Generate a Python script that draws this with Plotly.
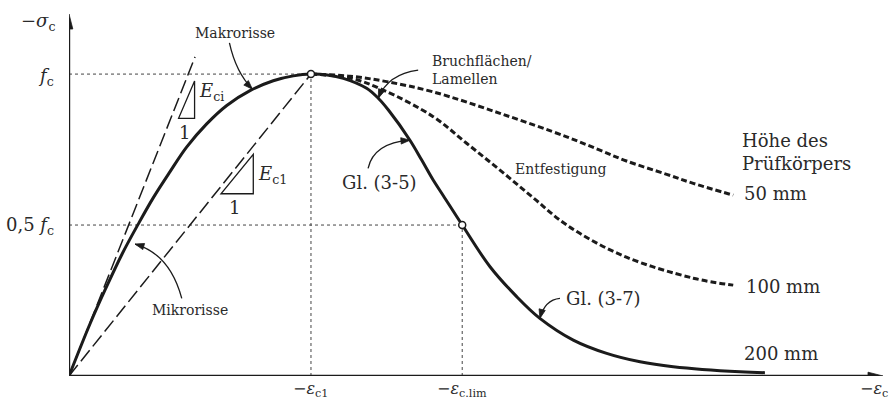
import plotly.graph_objects as go

# Stress-strain relation of concrete under uniaxial compression.
# Abscissa: strain related to eps_c1, ordinate: stress related to f_c.
EPS_C1 = 1.0
EPS_LIM = 1.625
F_C = 1.0
HALF_FC = 0.5
X_MAX = 3.364
Y_MAX = 1.199

# Gl. (3-5): ascending branch and softening down to 0.5 f_c
eq35_eps = [0.0, 0.087, 0.149, 0.22, 0.286, 0.348, 0.417, 0.486, 0.569, 0.652,
            0.748, 0.844, 0.927, 1.0, 1.067, 1.134, 1.23, 1.278, 1.32, 1.409,
            1.457, 1.505, 1.547, 1.625]
eq35_sig = [0.0, 0.173, 0.285, 0.405, 0.503, 0.590, 0.676, 0.758, 0.835, 0.896,
            0.945, 0.978, 0.994, 1.0, 0.997, 0.986, 0.953, 0.920, 0.881, 0.781,
            0.716, 0.649, 0.597, 0.5]

# Gl. (3-7): descending branch beyond eps_c,lim (specimen height 200 mm)
eq37_eps = [1.625, 1.740, 1.850, 1.946, 2.084, 2.222, 2.36, 2.497, 2.773, 2.876]
eq37_sig = [0.5, 0.362, 0.263, 0.191, 0.119, 0.075, 0.047, 0.031, 0.014, 0.011]

# Softening of shorter specimens
h50_eps = [1.0, 1.161, 1.313, 1.505, 1.781, 2.057, 2.194, 2.304, 2.47, 2.58, 2.745]
h50_sig = [1.0, 0.993, 0.975, 0.941, 0.870, 0.792, 0.748, 0.712, 0.668, 0.638, 0.599]

h100_eps = [1.0, 1.161, 1.299, 1.505, 1.643, 1.781, 1.919, 2.057, 2.29, 2.58, 2.745]
h100_sig = [1.0, 0.987, 0.947, 0.859, 0.771, 0.682, 0.590, 0.500, 0.398, 0.324, 0.301]

# Initial tangent (E_ci) and secant (E_c1) moduli
eci_eps = [0.0, 0.521]
eci_sig = [0.0, 1.057]
ec1_eps = [0.0, EPS_C1]
ec1_sig = [0.0, F_C]

# Slope triangles: (left corner eps, bottom sig, right eps, top sig)
tri_eci = (0.4529, 0.8536, 0.5190, 0.9768)
tri_ec1 = (0.6281, 0.6036, 0.7616, 0.7341)

W, H = 892, 402
ML, MR, MT, MB = 69, 9, 14, 26
SX = (W - ML - MR) / X_MAX
SY = (H - MT - MB) / Y_MAX

INK = "#1b1b1b"
TXT = "#2a2a2a"
FONT = "DejaVu Serif"

fig = go.Figure()


def arrow_head(x, y, dx, dy, length, half):
    """Filled triangular head with its tip at (x, y), pointing along (dx, dy) in screen units."""
    n = (dx * dx + dy * dy) ** 0.5
    ux, uy = dx / n, dy / n
    tx, ty = x * SX, y * SY
    bx, by = tx - ux * length, ty - uy * length
    p1 = ((bx - uy * half) / SX, (by + ux * half) / SY)
    p2 = ((bx + uy * half) / SX, (by - ux * half) / SY)
    fig.add_shape(type="path",
                  path=f"M {x},{y} L {p1[0]},{p1[1]} L {p2[0]},{p2[1]} Z",
                  xref="x", yref="y", fillcolor=INK, line=dict(color=INK, width=0.8))


# dotted reference lines
guides = [
    (0, F_C, EPS_C1, F_C),
    (EPS_C1, 0, EPS_C1, F_C),
    (0, HALF_FC, EPS_LIM, HALF_FC),
    (EPS_LIM, 0, EPS_LIM, HALF_FC),
]
for x0, y0, x1, y1 in guides:
    fig.add_shape(type="line", x0=x0, y0=y0, x1=x1, y1=y1, xref="x", yref="y",
                  line=dict(color="#444", width=1, dash="dot"), layer="below")

long_dash = dict(color=INK, width=1.5, dash="14px,5px")
short_dash = dict(color=INK, width=3, dash="6px,3px")

fig.add_trace(go.Scatter(x=eci_eps, y=eci_sig, mode="lines", line=long_dash, cliponaxis=False))
fig.add_trace(go.Scatter(x=ec1_eps, y=ec1_sig, mode="lines", line=long_dash, cliponaxis=False))
fig.add_trace(go.Scatter(x=h50_eps, y=h50_sig, mode="lines", line=short_dash,
                         line_shape="spline", cliponaxis=False))
fig.add_trace(go.Scatter(x=h100_eps, y=h100_sig, mode="lines", line=short_dash,
                         line_shape="spline", cliponaxis=False))
# Gl. (3-5) and Gl. (3-7) joined into one continuous line
fig.add_trace(go.Scatter(x=eq35_eps + eq37_eps[1:], y=eq35_sig + eq37_sig[1:], mode="lines",
                         line=dict(color=INK, width=3), line_shape="spline", cliponaxis=False))
fig.add_trace(go.Scatter(x=[EPS_C1, EPS_LIM], y=[F_C, HALF_FC], mode="markers",
                         marker=dict(size=7, color="white", line=dict(color=INK, width=1.5)),
                         cliponaxis=False))

# slope triangles
for x0, y0, x1, y1 in (tri_eci, tri_ec1):
    fig.add_shape(type="path", path=f"M {x0},{y0} L {x1},{y0} L {x1},{y1} Z",
                  xref="x", yref="y", line=dict(color=INK, width=1.3))

# coordinate axes with arrow heads
AX_HEAD = 15
fig.add_shape(type="line", x0=0, y0=0, x1=X_MAX - AX_HEAD / 2 / SX, y1=0,
              xref="x", yref="y", line=dict(color=INK, width=2.4))
fig.add_shape(type="line", x0=0, y0=0, x1=0, y1=Y_MAX - AX_HEAD / 2 / SY,
              xref="x", yref="y", line=dict(color=INK, width=2.4))
arrow_head(X_MAX, 0.0, 1, 0, AX_HEAD, 3.8)
arrow_head(0.0, Y_MAX, 0, 1, AX_HEAD, 3.8)

# curved pointer arrows: start, control, tip
pointers = [
    ((0.663, 1.103), (0.690, 1.005), (0.758, 0.950)),   # Makrorisse
    ((1.443, 1.013), (1.318, 1.000), (1.278, 0.920)),   # Bruchflächen
    ((1.236, 0.688), (1.260, 0.772), (1.409, 0.781)),   # Gl. (3-5)
    ((2.029, 0.257), (1.966, 0.252), (1.946, 0.191)),   # Gl. (3-7)
    ((0.466, 0.257), (0.417, 0.404), (0.273, 0.437)),   # Mikrorisse
]
for (x0, y0), (cx, cy), (x1, y1) in pointers:
    fig.add_shape(type="path", path=f"M {x0},{y0} Q {cx},{cy} {x1},{y1}",
                  xref="x", yref="y", line=dict(color=INK, width=1.3))
    arrow_head(x1, y1, (x1 - cx) * SX, (y1 - cy) * SY, 9, 3.2)

annotations = []


def label(text, x, y, size, xanchor="center", yanchor="middle", align="center",
          xshift=0, yshift=0):
    annotations.append(dict(text=text, x=x, y=y, xref="x", yref="y",
                            showarrow=False, xanchor=xanchor, yanchor=yanchor,
                            align=align, xshift=xshift, yshift=yshift,
                            font=dict(family=FONT, size=size, color=TXT)))


label("−<i>σ</i><sub>c</sub>", 0, 1.172, 18, xshift=-31)
label("<i>f</i><sub>c</sub>", 0, 0.99, 18, xanchor="right", xshift=-13)
label("0,5 <i>f</i><sub>c</sub>", 0, 0.497, 18, xanchor="right", xshift=-13)
label("−<i>ε</i><sub>c1</sub>", EPS_C1, 0, 16, yanchor="bottom", yshift=-26)
label("−<i>ε</i><sub>c.lim</sub>", EPS_LIM, 0, 16, yanchor="bottom", yshift=-26)
label("−<i>ε</i><sub>c</sub>", 3.326, 0, 16, yanchor="bottom", yshift=-26)

label("Makrorisse", 0.684, 1.136, 14)
label("Bruchflächen/<br>Lamellen", 1.49, 1.013, 14, xanchor="left", align="left")
label("Entfestigung", 2.035, 0.685, 14)
label("Mikrorisse", 0.5, 0.217, 14)
label("Gl. (3-5)", 1.285, 0.641, 18)
label("Gl. (3-7)", 2.209, 0.258, 18)
label("Höhe des<br>Prüfkörpers", 2.775, 0.743, 18, xanchor="left", align="left")
label("50 mm", 2.78, 0.606, 18, xanchor="left")
label("100 mm", 2.788, 0.296, 18, xanchor="left")
label("200 mm", 2.78, 0.076, 18, xanchor="left")

label("<i>E</i><sub>ci</sub>", 0.589, 0.940, 18)
label("1", 0.479, 0.806, 18)
label("<i>E</i><sub>c1</sub>", 0.843, 0.666, 18)
label("1", 0.686, 0.557, 18)

fig.update_layout(
    width=W, height=H,
    margin=dict(l=ML, r=MR, t=MT, b=MB),
    paper_bgcolor="white", plot_bgcolor="white",
    showlegend=False,
    xaxis=dict(range=[0, X_MAX], visible=False, fixedrange=True),
    yaxis=dict(range=[0, Y_MAX], visible=False, fixedrange=True),
    annotations=annotations,
)

fig.write_html("out.html")
